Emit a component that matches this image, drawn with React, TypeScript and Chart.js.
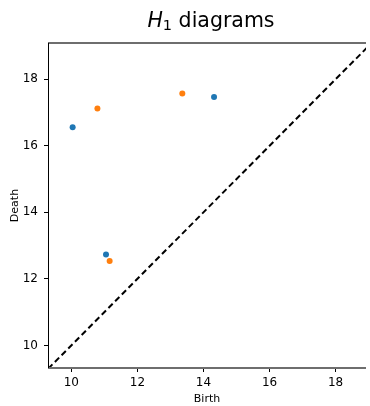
import React, { useEffect, useRef } from "react";
import { Chart, registerables } from "chart.js";

Chart.register(...registerables);

const seriesNames = ["H1 a", "H1 b"];
const blueBirth = [10.04, 14.32, 11.05];
const blueDeath = [16.56, 17.47, 12.73];
const orangeBirth = [10.79, 13.36, 11.16];
const orangeDeath = [17.12, 17.57, 12.54];
const diagonal = [9.3, 19.1];
const xTicks = [10, 12, 14, 16, 18];
const yTicks = [10, 12, 14, 16, 18];

const FONT = "'DejaVu Sans', sans-serif";

const spinePlugin = {
  id: "spines",
  afterDraw(chart: any) {
    const { ctx, chartArea } = chart;
    ctx.save();
    ctx.strokeStyle = "#6e6e6e";
    ctx.lineWidth = 2;
    ctx.beginPath();
    ctx.moveTo(chartArea.left, chartArea.top);
    ctx.lineTo(chartArea.right, chartArea.top);
    ctx.moveTo(chartArea.left, chartArea.bottom);
    ctx.lineTo(chartArea.right, chartArea.bottom);
    ctx.stroke();
    ctx.strokeStyle = "#000";
    ctx.lineWidth = 1;
    ctx.beginPath();
    ctx.moveTo(chartArea.left + 0.5, chartArea.top);
    ctx.lineTo(chartArea.left + 0.5, chartArea.bottom);
    ctx.stroke();
    // title
    const cx = chartArea.left + 163;
    ctx.fillStyle = "#000";
    ctx.textBaseline = "alphabetic";
    ctx.font = `oblique 20.5px ${FONT}`;
    const hW = ctx.measureText("H").width;
    ctx.font = `14.5px ${FONT}`;
    const sW = ctx.measureText("1").width;
    ctx.font = `20.5px ${FONT}`;
    const rest = " diagrams";
    const rW = ctx.measureText(rest).width;
    const total = hW + sW + rW;
    let x = cx - total / 2;
    const base = 27;
    ctx.font = `oblique 20.5px ${FONT}`;
    ctx.textAlign = "left";
    ctx.fillText("H", x, base);
    x += hW;
    ctx.font = `14.5px ${FONT}`;
    ctx.fillText("1", x, base + 3);
    x += sW;
    ctx.font = `20.5px ${FONT}`;
    ctx.fillText(rest, x, base);
    ctx.restore();
  },
};

export default function App() {
  const ref = useRef<HTMLCanvasElement>(null);
  useEffect(() => {
    if (!ref.current) return;
    const chart = new Chart(ref.current, {
      type: "scatter",
      data: {
        datasets: [
          {
            label: seriesNames[0],
            data: blueBirth.map((b, i) => ({ x: b, y: blueDeath[i] })),
            backgroundColor: "#1f77b4",
            borderColor: "#1f77b4",
            pointRadius: 3,
            borderWidth: 0,
          },
          {
            label: seriesNames[1],
            data: orangeBirth.map((b, i) => ({ x: b, y: orangeDeath[i] })),
            backgroundColor: "#ff7f0e",
            borderColor: "#ff7f0e",
            pointRadius: 3,
            borderWidth: 0,
          },
          {
            type: "line",
            label: "diag",
            data: diagonal.map((v) => ({ x: v, y: v })),
            borderColor: "#000",
            borderWidth: 2,
            borderDash: [6, 3.5],
            pointRadius: 0,
            fill: false,
          } as any,
        ],
      },
      options: {
        animation: false,
        responsive: false,
        layout: { padding: { top: 43, right: 0, left: 0, bottom: 0 } },
        plugins: {
          legend: { display: false },
          title: { display: false },
          tooltip: { enabled: false },
        },
        scales: {
          x: {
            type: "linear",
            min: 9.294,
            max: 18.92,
            afterBuildTicks: (s: any) => {
              s.ticks = xTicks.map((v) => ({ value: v }));
            },
            afterFit: (s: any) => {
              s.height = 38;
            },
            ticks: {
              color: "#000",
              font: { family: FONT, size: 12 },
              padding: 4,
              maxRotation: 0,
            },
            grid: {
              drawOnChartArea: false,
              tickLength: 4,
              color: "#000",
            },
            border: { display: false },
            title: {
              display: true,
              text: "Birth",
              color: "#000",
              font: { family: FONT, size: 11 },
              padding: { top: 0, bottom: 0 },
            },
          },
          y: {
            type: "linear",
            min: 9.32,
            max: 19.09,
            afterBuildTicks: (s: any) => {
              s.ticks = yTicks.map((v) => ({ value: v }));
            },
            afterFit: (s: any) => {
              s.width = 48;
            },
            ticks: {
              color: "#000",
              font: { family: FONT, size: 12 },
              padding: 6,
            },
            grid: {
              drawOnChartArea: false,
              tickLength: 4,
              color: "#000",
            },
            border: { display: false },
            title: {
              display: true,
              text: "Death",
              color: "#000",
              font: { family: FONT, size: 11 },
              padding: { top: 9, bottom: 0 },
            },
          },
        },
      },
      plugins: [spinePlugin],
    });
    return () => chart.destroy();
  }, []);
  return (
    <div style={{ position: "absolute", left: 0, top: 0, width: 370, height: 406 }}>
      <canvas ref={ref} width={370} height={406} style={{ width: 370, height: 406 }} />
    </div>
  );
}
